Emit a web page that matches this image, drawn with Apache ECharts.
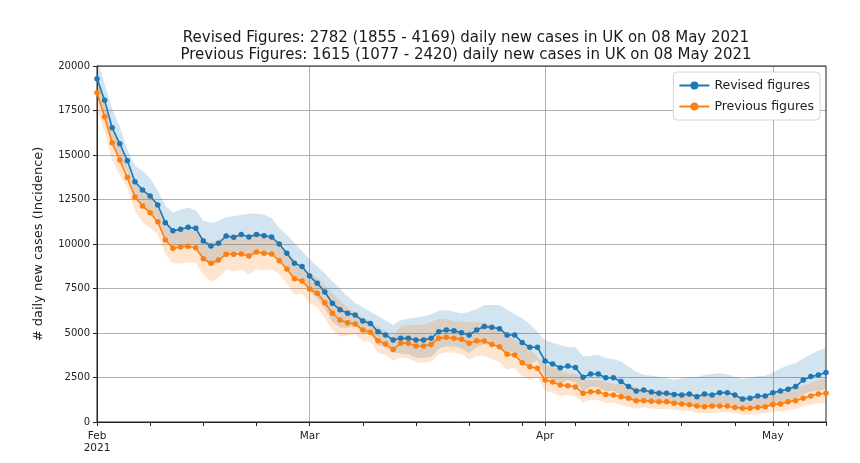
<!DOCTYPE html>
<html>
<head>
<meta charset="utf-8">
<script src="https://cdn.jsdelivr.net/npm/echarts@6/dist/echarts.min.js"></script>
<style>
html,body{margin:0;padding:0;background:#fff;}
#chart{width:860px;height:463px;}
</style>
</head>
<body>
<div id="chart"></div>
<script>
// ---- data ----
const startDate = '2021-02-01';
const nDays = 97; // 1 Feb 2021 .. 8 May 2021
const monthTickLabels = {'2021-02-01': 'Feb\n2021', '2021-03-01': 'Mar', '2021-04-01': 'Apr', '2021-05-01': 'May'};
const yTicks = [0, 2500, 5000, 7500, 10000, 12500, 15000, 17500, 20000];

const revised = [19290,18070,16530,15630,14680,13500,13030,12700,12190,11200,
10750,10830,10940,10880,10170,9890,10040,10450,10380,10540,
10390,10540,10470,10390,10000,9480,8920,8730,8200,7790,
7300,6670,6310,6110,6010,5670,5540,5070,4890,4610,
4700,4700,4610,4610,4700,5070,5170,5130,5020,4890,
5170,5360,5320,5240,4890,4890,4460,4200,4200,3430,
3260,3050,3150,3060,2510,2700,2700,2490,2490,2270,
1990,1740,1800,1690,1610,1610,1550,1520,1570,1420,
1570,1520,1650,1650,1520,1290,1330,1460,1460,1650,
1740,1840,1990,2360,2550,2640,2782];
const revisedUpper = [20400,19000,17600,16600,15300,14400,14100,13700,13000,12150,
11760,11950,12040,11900,11300,11200,11290,11500,11560,11630,
11700,11720,11650,11450,10900,10500,10050,9600,9150,8750,
8350,7900,7500,7050,6700,6450,6200,5950,5700,5450,
5730,5800,5870,5920,6050,6250,6290,6200,6100,6200,
6350,6570,6573,6573,6300,6050,5830,5500,5050,4600,
4450,4330,4230,4200,3700,3720,3760,3600,3520,3400,
3108,2830,2660,2600,2547,2470,2370,2453,2530,2547,
2640,2690,2734,2680,2540,2420,2520,2570,2590,2790,
3000,3190,3296,3570,3800,4000,4169];
const revisedLower = [18241,17185,15525,14717,14085,12656,12041,11773,11431,10324,
9826,9815,9941,9947,9153,8733,8928,9496,9320,9552,
9227,9479,9410,9428,9174,8559,7917,7939,7349,6935,
6382,5631,5309,5295,5391,4984,4950,4320,4195,3900,
3855,3809,3620,3590,3651,4113,4249,4245,4131,3857,
4209,4373,4306,4177,3796,3952,3412,3207,3493,2558,
2388,2148,2346,2229,1703,1960,1939,1722,1761,1516,
1274,1070,1218,1098,1018,1049,1014,942,974,792,
934,859,996,1016,910,688,702,829,823,976,
1009,1061,1201,1560,1711,1742,1855];

const previous = [18500,17150,15690,14720,13730,12640,12140,11760,11250,10230,
9760,9830,9870,9790,9170,8920,9100,9420,9420,9440,
9330,9550,9480,9440,9060,8600,8050,7920,7470,7230,
6700,6110,5730,5580,5510,5170,5040,4570,4380,4080,
4420,4420,4270,4270,4360,4700,4760,4700,4650,4420,
4570,4550,4360,4230,3800,3760,3330,3110,3020,2360,
2250,2080,2040,1970,1610,1700,1700,1550,1520,1420,
1330,1200,1200,1160,1140,1140,1050,1010,970,900,
860,900,900,900,820,770,770,820,860,990,
1010,1140,1200,1330,1460,1570,1615];
const previousUpper = [19564,18033,16705,15634,14310,13483,13137,12686,11997,11098,
10677,10846,10862,10708,10189,10102,10233,10367,10491,10416,
10506,10619,10548,10403,9875,9525,9070,8710,8336,8121,
7664,7237,6811,6438,6143,5881,5640,5363,5105,4823,
5389,5454,5437,5483,5612,5794,5791,5680,5650,5604,
5613,5577,5387,5306,4896,4652,4353,4073,3631,3165,
3071,2953,2740,2704,2373,2342,2367,2241,2149,2127,
2077,1952,1773,1785,1803,1749,1605,1630,1563,1614,
1446,1593,1491,1462,1370,1445,1459,1443,1526,1674,
1741,1976,1988,2012,2176,2379,2420];
const previousLower = [17494,16310,14736,13859,13174,11850,11219,10902,10549,9430,
8921,8909,8969,8950,8253,7876,8092,8560,8458,8555,
8285,8588,8520,8566,8312,7765,7145,7202,6694,6437,
5858,5159,4821,4836,4943,4545,4504,3894,3758,3451,
3626,3582,3353,3325,3387,3813,3913,3889,3827,3486,
3721,3712,3529,3372,2950,3039,2547,2375,2512,1760,
1648,1465,1519,1435,1092,1234,1221,1072,1075,948,
852,738,812,754,721,743,687,626,602,502,
511,509,543,554,491,410,406,466,485,585,
586,658,724,879,980,1036,1077];

// ---- build categories ----
const dates = [];
(function(){
  const d0 = new Date(startDate + 'T00:00:00Z');
  for (let i = 0; i < nDays; i++) {
    const d = new Date(d0.getTime() + i * 86400000);
    dates.push(d.toISOString().slice(0, 10));
  }
})();
const isMonthStart = (i) => dates[i] && dates[i].slice(8) === '01';
const isMonday = (i) => dates[i] && new Date(dates[i] + 'T00:00:00Z').getUTCDay() === 1;

const BLUE = '#1f77b4', ORANGE = '#ff7f0e';
const FONT = 'DejaVu Sans';

const diff = (a, b) => a.map((v, i) => v - b[i]);

const chart = echarts.init(document.getElementById('chart'), null, {renderer: 'canvas'});
chart.setOption({
  animation: false,
  backgroundColor: '#fff',
  title: {
    text: 'Revised Figures: 2782 (1855 - 4169) daily new cases in UK on 08 May 2021\nPrevious Figures: 1615 (1077 - 2420) daily new cases in UK on 08 May 2021',
    left: 461, top: 25, textAlign: 'center',
    textStyle: {fontFamily: FONT, fontSize: 15, fontWeight: 'normal', color: '#1a1a1a', lineHeight: 17}
  },
  legend: {
    data: ['Revised figures', 'Previous figures'],
    orient: 'vertical', right: 40, top: 72,
    itemWidth: 30, itemHeight: 10, itemGap: 8,
    backgroundColor: '#fff', borderColor: '#d6d6d6', borderWidth: 1, borderRadius: 4,
    padding: [7, 6, 7, 5],
    textStyle: {fontFamily: FONT, fontSize: 12.5, color: '#222'}
  },
  grid: {left: 97, right: 34, top: 66, bottom: 41, containLabel: false},
  xAxis: {
    type: 'category', data: dates, boundaryGap: false,
    axisLine: {show: true, lineStyle: {color: '#222', width: 1}},
    axisTick: {show: true, length: 4, interval: (i) => isMonthStart(i) || isMonday(i) || i === nDays - 1, lineStyle: {color: '#222'}},
    axisLabel: {
      interval: (i) => isMonthStart(i), fontFamily: FONT, fontSize: 10.5, color: '#222', lineHeight: 12, margin: 8,
      formatter: (v) => monthTickLabels[v] || ''
    },
    splitLine: {show: true, interval: (i) => isMonthStart(i) && i > 0, lineStyle: {color: '#b0b0b0', width: 1}}
  },
  yAxis: {
    type: 'value', min: yTicks[0], max: yTicks[yTicks.length - 1], interval: 2500,
    name: '# daily new cases (Incidence)', nameLocation: 'middle', nameGap: 52,
    nameTextStyle: {fontFamily: FONT, fontSize: 13, color: '#222'},
    axisLine: {show: true, lineStyle: {color: '#222', width: 1}},
    axisTick: {show: true, length: 4, lineStyle: {color: '#222'}},
    axisLabel: {fontFamily: FONT, fontSize: 10, color: '#222', margin: 7, formatter: (v) => String(v)},
    splitLine: {show: true, lineStyle: {color: '#b0b0b0', width: 1}}
  },
  series: [
    {name: 'rl', type: 'line', stack: 'rev', data: revisedLower, symbol: 'none', lineStyle: {opacity: 0}, silent: true, z: 1},
    {name: 'rband', type: 'line', stack: 'rev', data: diff(revisedUpper, revisedLower), symbol: 'none', lineStyle: {opacity: 0}, areaStyle: {color: BLUE, opacity: 0.2}, silent: true, z: 1},
    {name: 'pl', type: 'line', stack: 'prev', data: previousLower, symbol: 'none', lineStyle: {opacity: 0}, silent: true, z: 1},
    {name: 'pband', type: 'line', stack: 'prev', data: diff(previousUpper, previousLower), symbol: 'none', lineStyle: {opacity: 0}, areaStyle: {color: ORANGE, opacity: 0.2}, silent: true, z: 1},
    {name: 'Revised figures', type: 'line', data: revised, symbol: 'circle', symbolSize: 5.5, showAllSymbol: true,
      itemStyle: {color: BLUE}, lineStyle: {color: BLUE, width: 1.6}, z: 3},
    {name: 'Previous figures', type: 'line', data: previous, symbol: 'circle', symbolSize: 5.5, showAllSymbol: true,
      itemStyle: {color: ORANGE}, lineStyle: {color: ORANGE, width: 1.6}, z: 3}
  ]
});
// frame (top & right spines)
chart.setOption({
  graphic: [{
    type: 'rect', silent: true, z: 0,
    shape: {x: 97, y: 66, width: 729, height: 356},
    style: {fill: 'none', stroke: '#222', lineWidth: 1}
  }]
});
</script>
</body>
</html>
